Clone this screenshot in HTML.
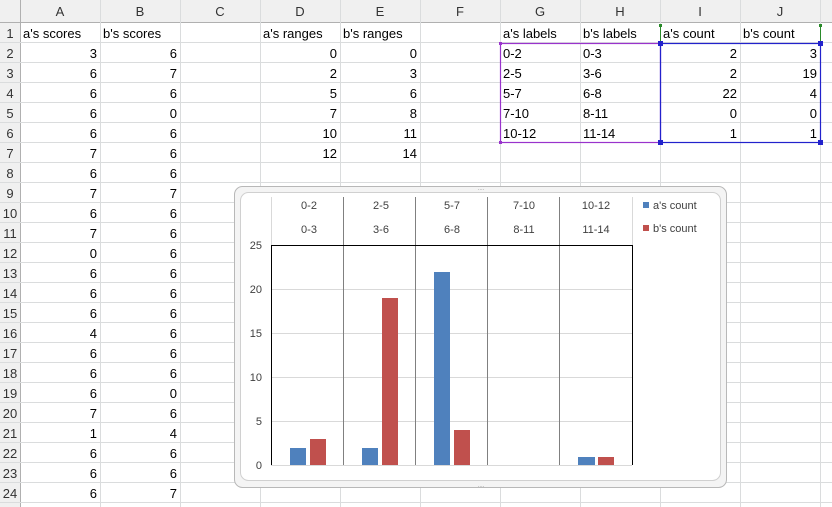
<!DOCTYPE html>
<html><head><meta charset="utf-8"><style>
html,body{margin:0;padding:0;background:#fff;}
svg{display:block;font-family:"Liberation Sans",sans-serif;}
</style></head><body>
<svg width="832" height="507" xmlns="http://www.w3.org/2000/svg">
<rect width="832" height="507" fill="#fff"/>
<!-- header row -->
<rect x="0" y="0" width="832" height="22" fill="#f0f0f0"/>
<rect x="0" y="0" width="20" height="507" fill="#f0f0f0"/>
<g stroke="#d4d4d4" stroke-width="1">
<line x1="0" y1="22.5" x2="832" y2="22.5" stroke="#b0b0b0"/>
<line x1="20.5" y1="0" x2="20.5" y2="507" stroke="#b0b0b0"/>
</g>
<g id="grid" stroke="#dadcdd" stroke-width="1">
<line x1="100.5" y1="0" x2="100.5" y2="507"/><line x1="180.5" y1="0" x2="180.5" y2="507"/>
<line x1="260.5" y1="0" x2="260.5" y2="507"/><line x1="340.5" y1="0" x2="340.5" y2="507"/>
<line x1="420.5" y1="0" x2="420.5" y2="507"/><line x1="500.5" y1="0" x2="500.5" y2="507"/>
<line x1="580.5" y1="0" x2="580.5" y2="507"/><line x1="660.5" y1="0" x2="660.5" y2="507"/>
<line x1="740.5" y1="0" x2="740.5" y2="507"/><line x1="820.5" y1="0" x2="820.5" y2="507"/>
<line x1="0" y1="42.5" x2="832" y2="42.5"/><line x1="0" y1="62.5" x2="832" y2="62.5"/><line x1="0" y1="82.5" x2="832" y2="82.5"/><line x1="0" y1="102.5" x2="832" y2="102.5"/><line x1="0" y1="122.5" x2="832" y2="122.5"/><line x1="0" y1="142.5" x2="832" y2="142.5"/><line x1="0" y1="162.5" x2="832" y2="162.5"/><line x1="0" y1="182.5" x2="832" y2="182.5"/><line x1="0" y1="202.5" x2="832" y2="202.5"/><line x1="0" y1="222.5" x2="832" y2="222.5"/><line x1="0" y1="242.5" x2="832" y2="242.5"/><line x1="0" y1="262.5" x2="832" y2="262.5"/><line x1="0" y1="282.5" x2="832" y2="282.5"/><line x1="0" y1="302.5" x2="832" y2="302.5"/><line x1="0" y1="322.5" x2="832" y2="322.5"/><line x1="0" y1="342.5" x2="832" y2="342.5"/><line x1="0" y1="362.5" x2="832" y2="362.5"/><line x1="0" y1="382.5" x2="832" y2="382.5"/><line x1="0" y1="402.5" x2="832" y2="402.5"/><line x1="0" y1="422.5" x2="832" y2="422.5"/><line x1="0" y1="442.5" x2="832" y2="442.5"/><line x1="0" y1="462.5" x2="832" y2="462.5"/><line x1="0" y1="482.5" x2="832" y2="482.5"/><line x1="0" y1="502.5" x2="832" y2="502.5"/>
</g>
<g font-size="13" fill="#333" text-anchor="middle">
<text x="60" y="16">A</text><text x="140" y="16">B</text><text x="220" y="16">C</text><text x="300" y="16">D</text><text x="380" y="16">E</text><text x="460" y="16">F</text><text x="540" y="16">G</text><text x="620" y="16">H</text><text x="700" y="16">I</text><text x="780" y="16">J</text>
</g>
<g font-size="13" fill="#333" text-anchor="middle">
<text x="10" y="38">1</text><text x="10" y="58">2</text><text x="10" y="78">3</text><text x="10" y="98">4</text><text x="10" y="118">5</text><text x="10" y="138">6</text><text x="10" y="158">7</text><text x="10" y="178">8</text><text x="10" y="198">9</text><text x="10" y="218">10</text><text x="10" y="238">11</text><text x="10" y="258">12</text><text x="10" y="278">13</text><text x="10" y="298">14</text><text x="10" y="318">15</text><text x="10" y="338">16</text><text x="10" y="358">17</text><text x="10" y="378">18</text><text x="10" y="398">19</text><text x="10" y="418">20</text><text x="10" y="438">21</text><text x="10" y="458">22</text><text x="10" y="478">23</text><text x="10" y="498">24</text>
</g>
<g font-size="13" fill="#000">
<text x="23" y="38">a's scores</text><text x="103" y="38">b's scores</text>
<text x="263" y="38">a's ranges</text><text x="343" y="38">b's ranges</text>
<text x="503" y="38">a's labels</text><text x="583" y="38">b's labels</text>
<text x="663" y="38">a's count</text><text x="743" y="38">b's count</text>
<text x="503" y="58">0-2</text><text x="503" y="78">2-5</text><text x="503" y="98">5-7</text><text x="503" y="118">7-10</text><text x="503" y="138">10-12</text>
<text x="583" y="58">0-3</text><text x="583" y="78">3-6</text><text x="583" y="98">6-8</text><text x="583" y="118">8-11</text><text x="583" y="138">11-14</text>
</g>
<g font-size="13" fill="#000" text-anchor="end">
<text x="97" y="58">3</text><text x="97" y="78">6</text><text x="97" y="98">6</text><text x="97" y="118">6</text><text x="97" y="138">6</text><text x="97" y="158">7</text><text x="97" y="178">6</text><text x="97" y="198">7</text><text x="97" y="218">6</text><text x="97" y="238">7</text><text x="97" y="258">0</text><text x="97" y="278">6</text><text x="97" y="298">6</text><text x="97" y="318">6</text><text x="97" y="338">4</text><text x="97" y="358">6</text><text x="97" y="378">6</text><text x="97" y="398">6</text><text x="97" y="418">7</text><text x="97" y="438">1</text><text x="97" y="458">6</text><text x="97" y="478">6</text><text x="97" y="498">6</text>
<text x="177" y="58">6</text><text x="177" y="78">7</text><text x="177" y="98">6</text><text x="177" y="118">0</text><text x="177" y="138">6</text><text x="177" y="158">6</text><text x="177" y="178">6</text><text x="177" y="198">7</text><text x="177" y="218">6</text><text x="177" y="238">6</text><text x="177" y="258">6</text><text x="177" y="278">6</text><text x="177" y="298">6</text><text x="177" y="318">6</text><text x="177" y="338">6</text><text x="177" y="358">6</text><text x="177" y="378">6</text><text x="177" y="398">0</text><text x="177" y="418">6</text><text x="177" y="438">4</text><text x="177" y="458">6</text><text x="177" y="478">6</text><text x="177" y="498">7</text>
<text x="337" y="58">0</text><text x="337" y="78">2</text><text x="337" y="98">5</text><text x="337" y="118">7</text><text x="337" y="138">10</text><text x="337" y="158">12</text>
<text x="417" y="58">0</text><text x="417" y="78">3</text><text x="417" y="98">6</text><text x="417" y="118">8</text><text x="417" y="138">11</text><text x="417" y="158">14</text>
<text x="737" y="58">2</text><text x="737" y="78">2</text><text x="737" y="98">22</text><text x="737" y="118">0</text><text x="737" y="138">1</text>
<text x="817" y="58">3</text><text x="817" y="78">19</text><text x="817" y="98">4</text><text x="817" y="118">0</text><text x="817" y="138">1</text>
</g>
<!-- selection ranges -->
<rect x="500.5" y="43.5" width="160" height="99" fill="none" stroke="#9933cc" stroke-width="1.2"/>
<rect x="660.5" y="43.5" width="160" height="99" fill="none" stroke="#2222cc" stroke-width="1.2"/>
<line x1="660.5" y1="25" x2="660.5" y2="43" stroke="#2a8a2a"/><line x1="820.5" y1="25" x2="820.5" y2="43" stroke="#2a8a2a"/>
<g fill="#2a8a2a"><rect x="659" y="24" width="3" height="3"/><rect x="819" y="24" width="3" height="3"/></g>
<g fill="#9933cc"><rect x="499" y="42" width="3" height="3"/><rect x="499" y="141" width="3" height="3"/></g>
<g fill="#2222cc"><rect x="658" y="41" width="5" height="5"/><rect x="818" y="41" width="5" height="5"/><rect x="658" y="140" width="5" height="5"/><rect x="818" y="140" width="5" height="5"/></g>
<!-- chart -->
<rect x="234.5" y="186.5" width="492" height="301" rx="8" fill="#f4f4f4" stroke="#b8b8b8"/>
<rect x="240.5" y="192.5" width="480" height="288" rx="8" fill="#fff" stroke="#d0d0d0"/>
<g stroke="#d9d9d9"><line x1="271" y1="421.5" x2="632" y2="421.5"/><line x1="271" y1="377.5" x2="632" y2="377.5"/><line x1="271" y1="333.5" x2="632" y2="333.5"/><line x1="271" y1="289.5" x2="632" y2="289.5"/><line x1="271" y1="465.5" x2="632" y2="465.5"/></g>
<g stroke="#d9d9d9"><line x1="271.5" y1="197" x2="271.5" y2="245"/><line x1="632.5" y1="197" x2="632.5" y2="245"/></g>
<g stroke="#808080"><line x1="343.5" y1="197" x2="343.5" y2="465"/><line x1="415.5" y1="197" x2="415.5" y2="465"/><line x1="487.5" y1="197" x2="487.5" y2="465"/><line x1="559.5" y1="197" x2="559.5" y2="465"/></g>
<g stroke="#000"><line x1="271" y1="245.5" x2="633" y2="245.5"/><line x1="271.5" y1="245" x2="271.5" y2="465"/><line x1="632.5" y1="245" x2="632.5" y2="465"/></g>
<g fill="#4f81bd"><rect x="290" y="448" width="16" height="17"/><rect x="362" y="448" width="16" height="17"/><rect x="434" y="272" width="16" height="193"/><rect x="578" y="457" width="17" height="8"/></g>
<g fill="#c0504d"><rect x="310" y="439" width="16" height="26"/><rect x="382" y="298" width="16" height="167"/><rect x="454" y="430" width="16" height="35"/><rect x="598" y="457" width="16" height="8"/></g>
<g font-size="11" fill="#404040" text-anchor="end"><text x="262" y="249">25</text><text x="262" y="293">20</text><text x="262" y="337">15</text><text x="262" y="381">10</text><text x="262" y="425">5</text><text x="262" y="469">0</text></g>
<g font-size="11" fill="#404040" text-anchor="middle">
<text x="309" y="209">0-2</text><text x="381" y="209">2-5</text><text x="452" y="209">5-7</text><text x="524" y="209">7-10</text><text x="596" y="209">10-12</text>
<text x="309" y="233">0-3</text><text x="381" y="233">3-6</text><text x="452" y="233">6-8</text><text x="524" y="233">8-11</text><text x="596" y="233">11-14</text>
</g>
<rect x="643" y="202" width="6" height="6" fill="#4f81bd"/><rect x="643" y="225" width="6" height="6" fill="#c0504d"/>
<g font-size="11" fill="#404040"><text x="653" y="209">a's count</text><text x="653" y="232">b's count</text></g>
<text x="481" y="190" font-size="6" fill="#999" text-anchor="middle">....</text>
<text x="481" y="487" font-size="6" fill="#999" text-anchor="middle">....</text>
</svg>
</body></html>
